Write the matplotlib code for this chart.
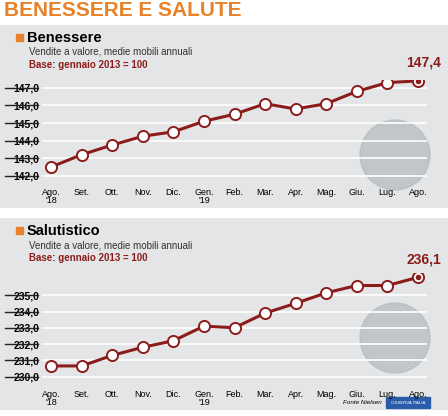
import matplotlib
matplotlib.use('Agg')
import matplotlib.pyplot as plt
from matplotlib.patches import Rectangle, Circle

plt.rcParams['font.family'] = ['Liberation Sans Narrow', 'Liberation Sans', 'DejaVu Sans']

months = ["Ago.\n'18", "Set.", "Ott.", "Nov.", "Dic.", "Gen.\n'19", "Feb.",
          "Mar.", "Apr.", "Mag.", "Giu.", "Lug.", "Ago."]
benessere = [142.5, 143.2, 143.75, 144.25, 144.5, 145.1, 145.5,
             146.1, 145.8, 146.1, 146.8, 147.3, 147.4]
salutistico = [230.65, 230.65, 231.3, 231.8, 232.2, 233.1, 233.0,
               233.9, 234.5, 235.15, 235.6, 235.6, 236.1]
ben_ticks = [142, 143, 144, 145, 146, 147]
sal_ticks = [230, 231, 232, 233, 234, 235]

W, H = 448, 416
RED = '#8c1c1c'
ORANGE = '#e8822a'
PANEL = '#e4e5e6'

fig = plt.figure(figsize=(W / 100, H / 100), dpi=100)
fig.patch.set_facecolor('white')


def px(x, y, w, h):
    return [x / W, 1 - (y + h) / H, w / W, h / H]


def fmt(v, d):
    return f'{v:.{d}f}'.replace('.', ',')


fig.text(4 / W, 1 - 1 / H, 'BENESSERE E SALUTE', color=ORANGE, fontsize=15,
         fontweight='bold', va='top', ha='left')


def panel(top, height, name, values, ticks, ylim, circ):
    bg = fig.add_axes(px(0, top, W, height))
    bg.set_xlim(0, W)
    bg.set_ylim(height, 0)
    bg.axis('off')
    bg.add_patch(Rectangle((0, 0), W, height, color=PANEL))
    bg.add_patch(Rectangle((16, 9), 7, 7, color=ORANGE))
    bg.text(27, 13, name, fontsize=10.5, fontweight='bold', va='center')
    bg.text(29, 27, 'Vendite a valore, medie mobili annuali', fontsize=7,
            va='center', color='#333333')
    bg.text(29, 40, 'Base: gennaio 2013 = 100', fontsize=7, va='center',
            color=RED, fontweight='bold')
    bg.add_patch(Circle(circ, 35, color='#b4babd', alpha=0.7))

    ax = fig.add_axes(px(42, top + 55, 385, height - 82))
    ax.set_facecolor('none')
    x = list(range(len(values)))
    ax.set_xlim(-0.3, 12.3)
    ax.set_ylim(*ylim)
    for t in ticks:
        ax.axhline(t, color='white', lw=1.2, zorder=0)
        ax.plot([-0.095, -0.01], [t, t], transform=ax.get_yaxis_transform(),
                color='#222222', lw=1, clip_on=False)
    ax.plot(x, values, color=RED, lw=2.2, zorder=2)
    ax.plot(x, values, 'o', ms=8, mfc='white', mec=RED, mew=1.4, zorder=3)
    ax.plot(x[-1], values[-1], 'o', ms=3, color=RED, zorder=4)
    ax.annotate(fmt(values[-1], 1), (x[-1], values[-1]), xytext=(4, 8),
                textcoords='offset points', ha='center', va='bottom',
                fontsize=10, fontweight='bold', color=RED)
    ax.set_yticks(ticks)
    ax.set_yticklabels([fmt(t, 1) for t in ticks], fontsize=7.5, fontweight='bold')
    ax.set_xticks(x)
    ax.set_xticklabels(months, fontsize=6.5, va='top', linespacing=0.9)
    ax.tick_params(length=0, pad=2)
    ax.tick_params(axis='x', pad=5)
    for s in ax.spines.values():
        s.set_visible(False)
    return bg


panel(25, 183, 'Benessere', benessere, ben_ticks, (141.7, 147.45), (395, 130))
bg = panel(218, 192, 'Salutistico', salutistico, sal_ticks, (229.6, 236.37), (395, 120))
bg.text(382, 185, 'Fonte Nielsen', fontsize=4.5, style='italic', ha='right', va='center')
bg.add_patch(Rectangle((386, 179), 44, 11, color='#2a5caa'))
bg.text(408, 184.5, 'OSSERVA ITALIA', fontsize=3.2, color='white', ha='center', va='center')

fig.savefig('out.png', dpi=100)
